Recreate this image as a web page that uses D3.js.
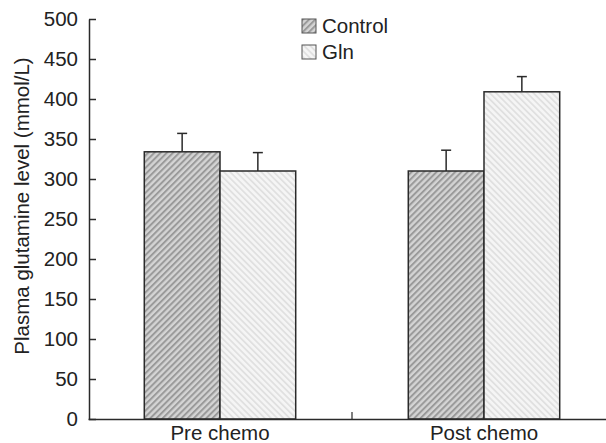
<!DOCTYPE html>
<html><head><meta charset="utf-8">
<script src="https://cdn.jsdelivr.net/npm/d3@7"></script>
<style>
body{margin:0;background:#fff;}
svg{display:block;font-family:"Liberation Sans",Arial,Helvetica,sans-serif;}
</style></head>
<body><svg id="c" width="606" height="443"></svg>
<script>
const categories = ["Pre chemo", "Post chemo"];
const seriesNames = ["Control", "Gln"];
const controlValues = [334, 310];
const controlErrors = [23, 26];
const glnValues = [310, 409];
const glnErrors = [23, 19];
const yTicks = [0, 50, 100, 150, 200, 250, 300, 350, 400, 450, 500];

const svg = d3.select("#c");
const ink = "#2a2a2a";
const fs = 20.5;
const defs = svg.append("defs");
function stripes(id, bg, fg, angle, size, sw) {
  const p = defs.append("pattern").attr("id", id)
    .attr("patternUnits", "userSpaceOnUse")
    .attr("width", size).attr("height", size)
    .attr("patternTransform", `rotate(${angle})`);
  p.append("rect").attr("width", size).attr("height", size).attr("fill", bg);
  p.append("rect").attr("x", 0).attr("width", sw).attr("height", size).attr("fill", fg);
}
stripes("pCtrl", "#d4d4d4", "#9a9a9a", 45, 4.4, 2.0);
stripes("pGln", "#f5f5f5", "#e0e0e0", -45, 4.4, 1.8);
const fills = {Control: "url(#pCtrl)", Gln: "url(#pGln)"};

const y = d3.scaleLinear().domain([0, 500]).range([419, 19]);
const x0 = d3.scaleBand().domain(categories).range([88, 616]).padding(0);
const x1 = d3.scaleBand().domain(seriesNames).range([0, x0.bandwidth()])
  .paddingInner(0).paddingOuter(0.7435);

const data = categories.map((c, i) => ({
  cat: c,
  items: [
    {s: "Control", v: controlValues[i], e: controlErrors[i]},
    {s: "Gln", v: glnValues[i], e: glnErrors[i]}
  ]
}));

const g = svg.append("g");
const groups = g.selectAll("g.grp").data(data).join("g")
  .attr("transform", d => `translate(${x0(d.cat)},0)`);

groups.selectAll("g.err").data(d => d.items).join("g").each(function(d) {
  const cx = x1(d.s) + x1.bandwidth() / 2;
  const sel = d3.select(this);
  sel.append("line").attr("x1", cx).attr("x2", cx)
    .attr("y1", y(d.v)).attr("y2", y(d.v + d.e))
    .attr("stroke", ink).attr("stroke-width", 1.5);
  sel.append("line").attr("x1", cx - 5).attr("x2", cx + 5)
    .attr("y1", y(d.v + d.e)).attr("y2", y(d.v + d.e))
    .attr("stroke", ink).attr("stroke-width", 1.5);
});

groups.selectAll("rect.bar").data(d => d.items).join("rect")
  .attr("class", "bar")
  .attr("x", d => x1(d.s))
  .attr("width", x1.bandwidth())
  .attr("y", d => y(d.v))
  .attr("height", d => y(0) - y(d.v))
  .attr("fill", d => fills[d.s])
  .attr("stroke", ink).attr("stroke-width", 1.5);

const yAxis = d3.axisRight(y).tickValues(yTicks).tickSize(7).tickSizeOuter(0);
const ya = svg.append("g").attr("transform", "translate(89,0)").call(yAxis);
ya.select(".domain").attr("stroke", ink).attr("stroke-width", 1.5);
ya.selectAll(".tick line").attr("stroke", ink).attr("stroke-width", 1.5);
ya.selectAll(".tick text").attr("x", -11).attr("text-anchor", "end")
  .attr("font-size", fs).attr("fill", "#222").attr("font-family", "Liberation Sans, Arial, sans-serif");

const xAxis = d3.axisTop(x0).tickSize(0).tickSizeOuter(0);
const xa = svg.append("g").attr("transform", "translate(0,419)").call(xAxis);
xa.select(".domain").attr("stroke", ink).attr("stroke-width", 1.5);
xa.selectAll(".tick text").attr("y", 21).attr("dy", 0)
  .attr("font-size", fs).attr("fill", "#222").attr("font-family", "Liberation Sans, Arial, sans-serif");
xa.append("line").attr("x1", x0("Post chemo")).attr("x2", x0("Post chemo"))
  .attr("y1", 0).attr("y2", -7).attr("stroke", ink).attr("stroke-width", 1.2);

svg.append("text").attr("transform", "translate(29,206) rotate(-90)")
  .attr("text-anchor", "middle").attr("font-size", fs).attr("fill", "#222")
  .text("Plasma glutamine level (mmol/L)");

const leg = svg.append("g").attr("transform", "translate(302,19)");
seriesNames.forEach((s, i) => {
  const r = leg.append("g").attr("transform", `translate(0,${i * 26})`);
  r.append("rect").attr("width", 14).attr("height", 14)
    .attr("fill", fills[s]).attr("stroke", "#555").attr("stroke-width", 1);
  r.append("text").attr("x", 20).attr("y", 14).attr("font-size", fs)
    .attr("fill", "#222").text(s);
});
</script></body></html>
